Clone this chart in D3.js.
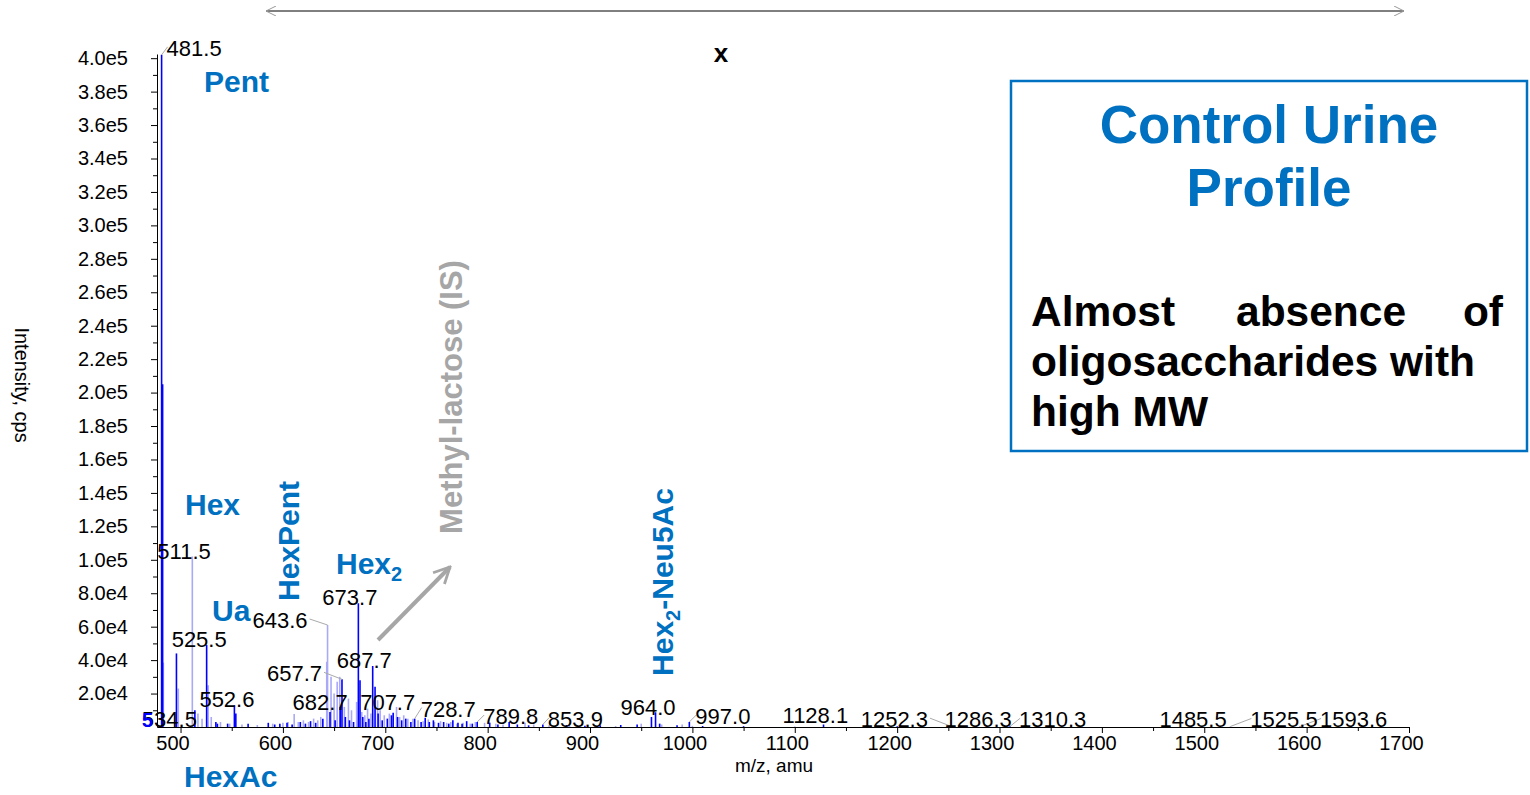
<!DOCTYPE html>
<html>
<head>
<meta charset="utf-8">
<script src="https://cdn.jsdelivr.net/npm/d3@7"></script>
<style>
  body { margin: 0; background: #fff; }
  svg { font-family: "Liberation Sans", Arial, sans-serif; }
</style>
</head>
<body>
<div id="grafico"></div>
<script>
// picos azul escuro [m/z, intensidade]
const picosAzuis = [
  [481.5, 402000], [482.5, 205000], [496.0, 44000], [514.0, 10000], [525.5, 49000],
  [534.5, 3000], [536.0, 2000], [546.0, 2000], [552.6, 13000], [554.0, 8000],
  [566.0, 2000], [585.7, 2500], [592.0, 1500], [597.0, 2000], [604.0, 2500],
  [609.0, 1500], [617.0, 3000], [622.0, 2000], [627.0, 3500], [632.0, 2500],
  [639.0, 5000], [646.0, 9000], [651.0, 4000], [656.0, 12000], [657.7, 28500],
  [661.0, 6000], [665.0, 4000], [669.0, 3000], [673.7, 74000], [675.3, 28000],
  [678.0, 6000], [681.0, 3000], [684.0, 5000], [687.7, 36500], [690.0, 24000],
  [693.0, 8000], [697.0, 4000], [702.0, 5000], [706.0, 7000], [707.7, 8500],
  [712.0, 6000], [716.0, 4000], [720.0, 5000], [725.0, 3000], [728.7, 5000],
  [735.0, 3000], [739.0, 5500], [743.0, 3000], [747.0, 4000], [752.0, 2500],
  [757.0, 3000], [762.0, 2000], [766.0, 4000], [771.0, 2500], [775.0, 2000],
  [779.5, 3500], [785.0, 2000], [789.8, 3000], [802.0, 2600], [810.0, 1500],
  [821.0, 3000], [829.0, 1500], [840.0, 1000], [853.9, 1500], [877.0, 1200],
  [895.0, 800], [910.0, 1000], [930.0, 1200], [946.0, 1500], [960.0, 6000],
  [964.0, 8800], [968.0, 2000], [985.0, 1000], [997.0, 3000], [1010.0, 600],
  [1050.0, 500], [1128.1, 1500], [1200.0, 400], [1252.3, 500], [1310.3, 400],
  [1593.6, 300]
];

// picos azul claro [m/z, intensidade]
const picosClaros = [
  [483.2, 38500], [497.8, 23000], [511.5, 102000], [517.0, 8000], [521.0, 5000],
  [527.0, 25000], [530.0, 6000], [539.0, 3000], [548.0, 2000], [560.0, 1500],
  [575.0, 1200], [590.0, 2000], [600.0, 2500], [605.0, 3000], [611.0, 7800],
  [615.0, 3000], [620.0, 4000], [625.0, 3000], [630.0, 5000], [634.0, 4000],
  [637.0, 6000], [642.8, 39000], [643.6, 61000], [647.0, 30000], [650.0, 20000],
  [653.0, 27000], [655.5, 30000], [660.0, 12000], [664.0, 17000], [667.0, 10000],
  [672.0, 15000], [677.0, 9000], [680.0, 7000], [682.7, 11000], [686.0, 8000],
  [692.5, 16000], [695.0, 10000], [699.0, 7000], [704.0, 8000], [711.0, 12000],
  [714.0, 6000], [718.0, 7000], [722.0, 5000], [727.0, 5000], [732.0, 4000],
  [737.0, 3500], [742.0, 4500], [748.0, 3000], [754.0, 3500], [760.0, 2500],
  [764.0, 3000], [770.0, 2000], [776.0, 2500], [783.0, 2000], [788.0, 3000],
  [797.0, 2500], [808.0, 2000], [815.0, 1500], [836.5, 2500], [845.0, 1500],
  [860.0, 1000], [880.0, 800], [905.0, 700], [925.0, 600], [950.0, 2000],
  [970.0, 1500], [990.0, 1500], [1000.0, 700], [1100.0, 300], [1286.3, 400],
  [1485.5, 400], [1525.5, 300]
];

// rótulos dos picos
const rotulosMz = [481.5, 511.5, 525.5, 534.5, 552.6, 643.6, 657.7, 673.7, 682.7, 687.7,
  707.7, 728.7, 789.8, 853.9, 964.0, 997.0, 1128.1, 1252.3, 1286.3, 1310.3, 1485.5, 1525.5, 1593.6];

// eixos
const xTicks = d3.range(500, 1701, 100);
const xMinor = d3.range(550, 1700, 100);
const yTicks = d3.range(20000, 400001, 20000);
const yMinor = d3.range(10000, 400000, 20000);

// deslocamento dos rótulos em px (esquerda, linha de base) e linha guia
const rotuloDx = [5, -35, -35, -74, -35, -75, -75, -36, -75, -36, -33, 6, 6, 5, -35, 6, -41, -90, -41, 9, -30, 20, 20];
const rotuloDy = [1, 3, 2, 5, 2, 3, 2, 2, 1, 2, -3, -2, 2, 2.5, 3, 2, -1.5, 1, 1, 1, 1, 1, 1];
const rotuloGuia = [1, 0, 0, 0, 0, 1, 1, 0, 0, 0, 0, 1, 1, 1, 0, 1, 0, 1, 0, 1, 0, 1, 1];

const azul = "#0000ff";
const claro = "#a9a9f7";
const azulTexto = "#0070c0";
const cinza = "#a6a6a6";

const svg = d3.select("#grafico").append("svg")
  .attr("width", 1530)
  .attr("height", 795);

const x = d3.scaleLinear().domain([477, 1700]).range([157, 1409]);
const y = d3.scaleLinear().domain([0, 402500]).range([727, 54]);

const defs = svg.append("defs");
defs.append("marker")
  .attr("id", "seta")
  .attr("viewBox", "0 0 10 10")
  .attr("refX", 9).attr("refY", 5)
  .attr("markerWidth", 5).attr("markerHeight", 5)
  .attr("markerUnits", "strokeWidth")
  .attr("orient", "auto")
  .append("path")
  .attr("d", "M1,1 L9,5 L1,9")
  .attr("fill", "none")
  .attr("stroke", cinza)
  .attr("stroke-width", 1.4);
defs.append("marker")
  .attr("id", "setaFina")
  .attr("viewBox", "0 0 10 10")
  .attr("refX", 10).attr("refY", 5)
  .attr("markerWidth", 10).attr("markerHeight", 10)
  .attr("markerUnits", "userSpaceOnUse")
  .attr("orient", "auto-start-reverse")
  .append("path")
  .attr("d", "M0,0 L10,5 L0,10")
  .attr("fill", "none")
  .attr("stroke", "#999")
  .attr("stroke-width", 1);

// picos
svg.append("g").selectAll("line")
  .data(picosClaros)
  .enter().append("line")
  .attr("x1", d => x(d[0])).attr("x2", d => x(d[0]))
  .attr("y1", y(0)).attr("y2", d => y(d[1]))
  .attr("stroke", claro)
  .attr("stroke-width", 1.6);

svg.append("g").selectAll("line")
  .data(picosAzuis)
  .enter().append("line")
  .attr("x1", d => x(d[0])).attr("x2", d => x(d[0]))
  .attr("y1", y(0)).attr("y2", d => y(d[1]))
  .attr("stroke", azul)
  .attr("stroke-width", 1.6);

// eixo x
const eixoX = svg.append("g").attr("transform", "translate(0,727)");
eixoX.call(d3.axisBottom(x).tickValues(xTicks).tickFormat(d3.format("d")).tickSize(6).tickSizeOuter(0).tickPadding(3));
eixoX.append("g").call(d3.axisBottom(x).tickValues(xMinor).tickFormat("").tickSize(4).tickSizeOuter(0))
  .select(".domain").remove();
eixoX.selectAll("text").attr("font-size", 20).attr("fill", "#000").attr("dx", -8).style("font-family", "inherit");
eixoX.selectAll("line, path").attr("stroke", "#000");

// eixo y
const fmtY = v => v < 100000 ? (v / 10000).toFixed(1) + "e4" : (v / 100000).toFixed(1) + "e5";
const eixoY = svg.append("g").attr("transform", "translate(157,0)");
eixoY.call(d3.axisLeft(y).tickValues(yTicks).tickFormat(fmtY).tickSize(6).tickSizeOuter(0).tickPadding(23));
eixoY.append("g").call(d3.axisLeft(y).tickValues(yMinor).tickFormat("").tickSize(4).tickSizeOuter(0))
  .select(".domain").remove();
eixoY.selectAll("text").attr("font-size", 20).attr("fill", "#000").style("font-family", "inherit");
eixoY.selectAll("line, path").attr("stroke", "#000");

svg.append("text")
  .attr("x", 774).attr("y", 772)
  .attr("text-anchor", "middle")
  .attr("font-size", 19)
  .text("m/z, amu");

svg.append("text")
  .attr("transform", "translate(15,385) rotate(90)")
  .attr("text-anchor", "middle")
  .attr("font-size", 20)
  .text("Intensity, cps");

// rótulos de picos
const todos = picosAzuis.concat(picosClaros);
const gRot = svg.append("g");
rotulosMz.forEach((mz, i) => {
  const pico = todos.find(p => p[0] === mz);
  const px = x(mz), py = y(pico[1]);
  const t = gRot.append("text")
    .attr("x", px + rotuloDx[i])
    .attr("y", py + rotuloDy[i])
    .attr("font-size", 22)
    .attr("fill", "#000")
    .text(mz.toFixed(1));
  if (rotuloGuia[i]) {
    const w = t.node().getComputedTextLength();
    const esq = px + rotuloDx[i];
    const alvoX = rotuloDx[i] > 0 ? esq + 1 : esq + w + 2;
    gRot.insert("line", "text")
      .attr("x1", px).attr("y1", py)
      .attr("x2", alvoX).attr("y2", py + rotuloDy[i] - 9)
      .attr("stroke", "#aaa")
      .attr("stroke-width", 1);
  }
});

svg.append("text")
  .attr("x", 142).attr("y", 727)
  .attr("font-size", 20).attr("font-weight", "bold")
  .attr("fill", azul)
  .text("5");

// anotações azuis
const anot = (txt, xx, yy) => svg.append("text")
  .attr("x", xx).attr("y", yy)
  .attr("font-size", 30).attr("font-weight", "bold")
  .attr("fill", azulTexto)
  .text(txt);
anot("Pent", 204, 92);
anot("Hex", 185, 515);
anot("Ua", 212, 621);
anot("HexAc", 184, 787);

const hex2 = svg.append("text")
  .attr("x", 336).attr("y", 574)
  .attr("font-size", 30).attr("font-weight", "bold")
  .attr("fill", azulTexto);
hex2.append("tspan").text("Hex");
hex2.append("tspan").attr("dy", 7).attr("font-size", 20).text("2");

svg.append("text")
  .attr("transform", "translate(299,541) rotate(-90)")
  .attr("text-anchor", "middle")
  .attr("font-size", 30).attr("font-weight", "bold")
  .attr("fill", azulTexto)
  .text("HexPent");

const neu = svg.append("text")
  .attr("transform", "translate(673,582) rotate(-90)")
  .attr("text-anchor", "middle")
  .attr("font-size", 30).attr("font-weight", "bold")
  .attr("fill", azulTexto);
neu.append("tspan").text("Hex");
neu.append("tspan").attr("dy", 7).attr("font-size", 20).text("2");
neu.append("tspan").attr("dy", -7).text("-Neu5Ac");

svg.append("text")
  .attr("transform", "translate(462,397) rotate(-90)")
  .attr("text-anchor", "middle")
  .attr("font-size", 31).attr("font-weight", "bold")
  .attr("fill", cinza)
  .text("Methyl-lactose (IS)");

// seta cinza
svg.append("line")
  .attr("x1", 378).attr("y1", 640)
  .attr("x2", 450).attr("y2", 567)
  .attr("stroke", cinza)
  .attr("stroke-width", 4)
  .attr("marker-end", "url(#seta)");

// linha superior com setas
svg.append("line")
  .attr("x1", 266).attr("y1", 11)
  .attr("x2", 1404).attr("y2", 11)
  .attr("stroke", "#000")
  .attr("stroke-width", 1)
  .attr("marker-start", "url(#setaFina)")
  .attr("marker-end", "url(#setaFina)");

svg.append("text")
  .attr("x", 721).attr("y", 62)
  .attr("text-anchor", "middle")
  .attr("font-size", 26).attr("font-weight", "bold")
  .text("x");

// caixa
svg.append("rect")
  .attr("x", 1011).attr("y", 81)
  .attr("width", 516).attr("height", 370)
  .attr("fill", "#fff")
  .attr("stroke", azulTexto)
  .attr("stroke-width", 2.5);

[["Control Urine", 143], ["Profile", 206]].forEach(([txt, yy]) => {
  svg.append("text")
    .attr("x", 1269).attr("y", yy)
    .attr("text-anchor", "middle")
    .attr("font-size", 53).attr("font-weight", "bold")
    .attr("fill", azulTexto)
    .text(txt);
});

const corpo = (txt, xx, yy, anc) => svg.append("text")
  .attr("x", xx).attr("y", yy)
  .attr("text-anchor", anc)
  .attr("font-size", 42.5).attr("font-weight", "bold")
  .attr("fill", "#000")
  .text(txt);
corpo("Almost", 1031, 326, "start");
corpo("absence", 1236, 326, "start");
corpo("of", 1503, 326, "end");
corpo("oligosaccharides with", 1031, 376, "start");
corpo("high MW", 1031, 426, "start");
</script>
</body>
</html>
